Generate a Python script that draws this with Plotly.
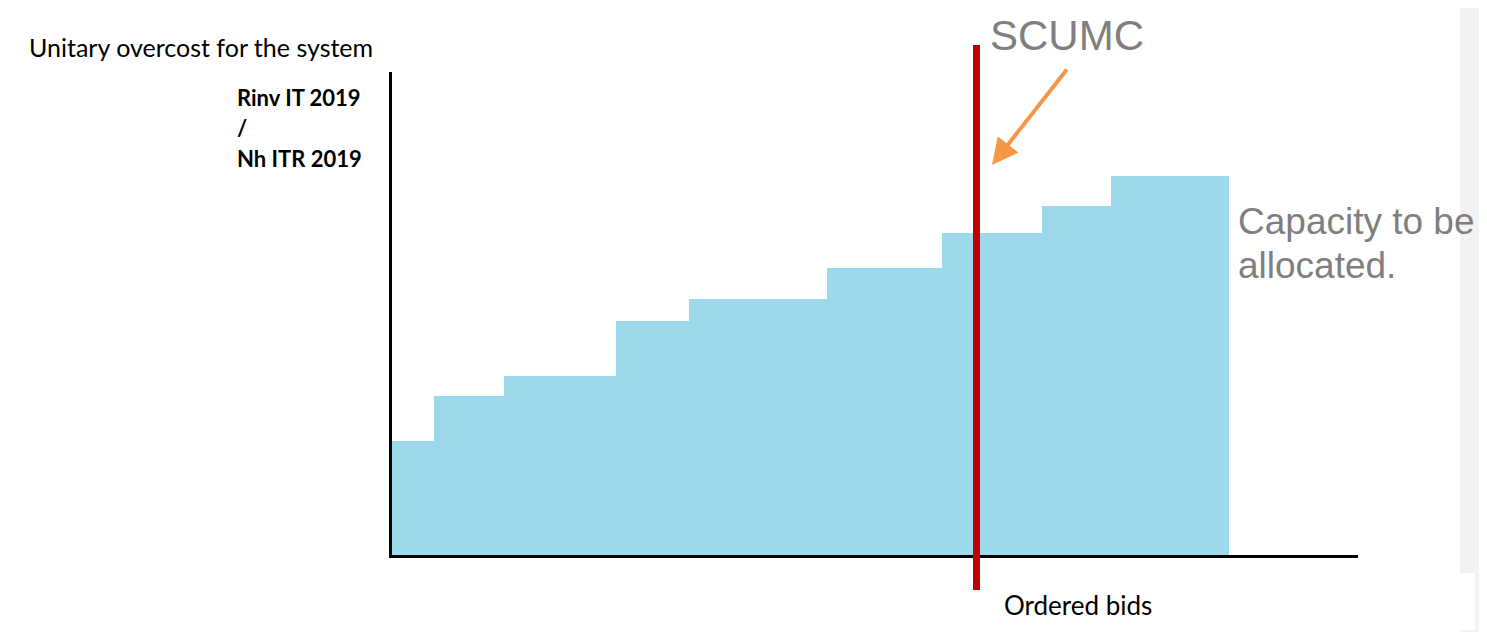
import numpy as np
import plotly.graph_objects as go

# ---- data (arbitrary units) ----
bid_widths = [42, 70, 112, 73, 138, 115, 100, 69, 118]
bid_costs = [114, 159, 179, 234, 256, 287, 322, 349, 379]
scumc_x = 584.5
x_range = [0, 966]
y_range = [0, 483]

# page body has an 8px margin; figure placed at (8, 8) on screen
OFF = 8
W, H = 1487 - OFF, 632 - OFF
X0, X1, Y0, Y1 = 392, 1358, 72, 555  # plot area in screen pixels
L, R, T, B = X0 - OFF, (W + OFF) - X1, Y0 - OFF, (H + OFF) - Y1
PW, PH = X1 - X0, Y1 - Y0

def px(x):
    return (x - X0) / PW

def py(y):
    return (Y1 - y) / PH

edges = np.concatenate([[0], np.cumsum(bid_widths)])
centers = (edges[:-1] + edges[1:]) / 2

fig = go.Figure()
fig.add_trace(go.Bar(
    x=centers, y=bid_costs, width=bid_widths,
    marker=dict(color="#9cd9ea", line=dict(width=0)),
    hoverinfo="skip", showlegend=False,
))

shapes = [
    dict(type="rect", xref="paper", yref="paper", x0=px(8), x1=px(1460), y0=py(640), y1=py(4),
         fillcolor="white", line=dict(width=0), layer="below"),
    dict(type="rect", xref="paper", yref="paper", x0=px(1459), x1=px(1475), y0=py(630), y1=py(573),
         fillcolor="white", line=dict(width=0), layer="below"),
    dict(type="line", xref="x", yref="paper", x0=scumc_x, x1=scumc_x, y0=py(590), y1=py(45),
         line=dict(color="#c00000", width=7), layer="above"),
]

ann = [
    dict(text="Unitary overcost for the system", x=px(27), y=py(47), xanchor="left", yanchor="middle",
         font=dict(family="Lato", size=25, color="#000000")),
    dict(text="<b>Rinv IT 2019</b>", x=px(235), y=py(97), xanchor="left", yanchor="middle",
         font=dict(family="Lato", size=22, color="#000000")),
    dict(text="<b>/</b>", x=px(235), y=py(127), xanchor="left", yanchor="middle",
         font=dict(family="Lato", size=22, color="#000000")),
    dict(text="<b>Nh ITR 2019</b>", x=px(235), y=py(158), xanchor="left", yanchor="middle",
         font=dict(family="Lato", size=22, color="#000000")),
    dict(text="SCUMC", x=px(988), y=py(35), xanchor="left", yanchor="middle",
         font=dict(family="Liberation Sans", size=42, color="#7f7f7f")),
    dict(text="Capacity to be", x=px(1236), y=py(221), xanchor="left", yanchor="middle",
         font=dict(family="Liberation Sans", size=37, color="#7f7f7f")),
    dict(text="allocated.", x=px(1236), y=py(265), xanchor="left", yanchor="middle",
         font=dict(family="Liberation Sans", size=37, color="#7f7f7f")),
    dict(text="Ordered bids", x=px(1002), y=py(605), xanchor="left", yanchor="middle",
         font=dict(family="Lato", size=26, color="#000000")),
]
for a in ann:
    a.update(xref="paper", yref="paper", showarrow=False)

ann.append(dict(
    xref="x", yref="y", x=600, y=390, ax=76, ay=-97, text="",
    showarrow=True, arrowhead=2, arrowsize=1.3, arrowwidth=4, arrowcolor="#f79646",
))

fig.update_layout(
    width=W, height=H,
    margin=dict(l=L, r=R, t=T, b=B, pad=0),
    paper_bgcolor="#f2f2f2", plot_bgcolor="white",
    bargap=0,
    shapes=shapes, annotations=ann,
    xaxis=dict(range=x_range, showline=True, linecolor="black", linewidth=3,
               showgrid=False, zeroline=False, showticklabels=False, ticks=""),
    yaxis=dict(range=y_range, showline=True, linecolor="black", linewidth=3,
               showgrid=False, zeroline=False, showticklabels=False, ticks=""),
)

fig.write_html("out.html")
